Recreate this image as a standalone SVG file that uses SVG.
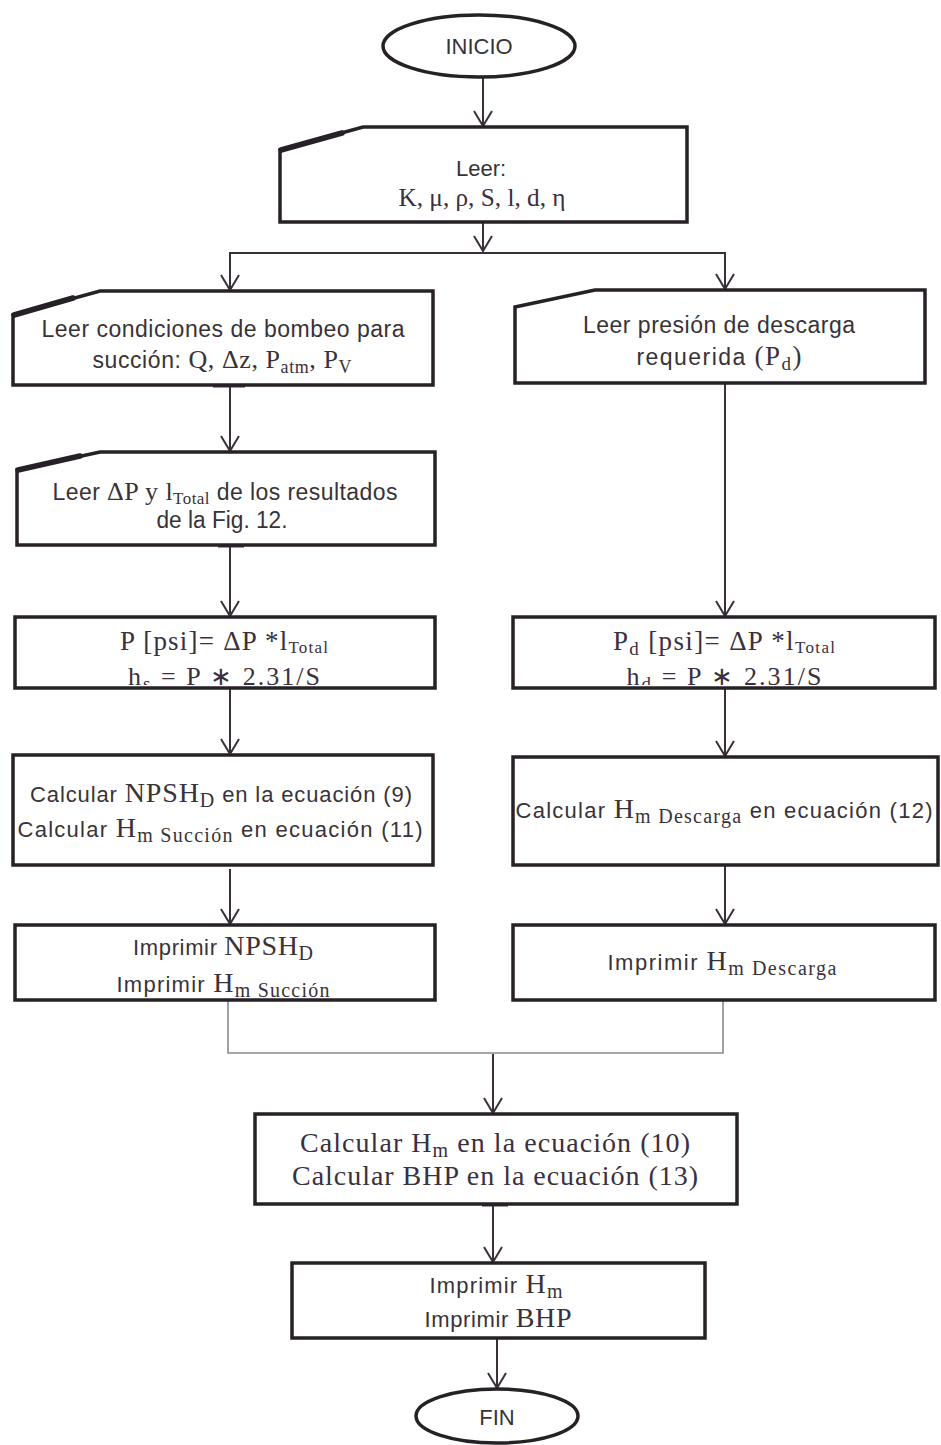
<svg xmlns="http://www.w3.org/2000/svg" width="941" height="1445" viewBox="0 0 941 1445">
<style>
.box{fill:#fff;stroke:#262126;stroke-width:3.5;stroke-linejoin:miter}
.thick{stroke:#262126;stroke-width:5.5;stroke-linecap:round;fill:none}
.term{fill:#fff;stroke:#262126;stroke-width:3.5}
.sans{font-family:"Liberation Sans",Arial,sans-serif;fill:#383338}
.serif{font-family:"Liberation Serif","Times New Roman",serif;fill:#3a3040}
.ser{font-family:"Liberation Serif","Times New Roman",serif}
.conn{stroke:#3a3038;stroke-width:2;fill:none}
.join{stroke:#8a8a8a;stroke-width:1.6;fill:none}
.tick{stroke:#3a3038;stroke-width:3;fill:none}
</style>
<defs>
<marker id="arr" viewBox="-17 -11 19 22" refX="0" refY="0" markerWidth="19" markerHeight="22" markerUnits="userSpaceOnUse" orient="auto" overflow="visible">
<path d="M-15,-9 L0,0 L-15,9" fill="none" stroke="#3a3038" stroke-width="2"/>
</marker>
<clipPath id="clipL"><rect x="0" y="600" width="470" height="85"/></clipPath>
<clipPath id="clipR"><rect x="480" y="600" width="461" height="85"/></clipPath>
</defs>
<rect width="941" height="1445" fill="#fff"/>

<g id="connectors">
<line class="conn" x1="483" y1="77" x2="483" y2="126" marker-end="url(#arr)"/>
<line class="conn" x1="483" y1="223" x2="483" y2="251" marker-end="url(#arr)"/>
<polyline class="conn" points="230,290 230,253 725,253 725,289" stroke-width="1.8"/>
<line class="conn" x1="230" y1="280" x2="230" y2="290" marker-end="url(#arr)"/>
<line class="conn" x1="725" y1="280" x2="725" y2="289" marker-end="url(#arr)"/>
<line class="conn" x1="230" y1="386" x2="230" y2="451" marker-end="url(#arr)"/>
<line class="conn" x1="230" y1="546" x2="230" y2="616" marker-end="url(#arr)"/>
<line class="conn" x1="725" y1="384" x2="725" y2="616" marker-end="url(#arr)"/>
<line class="conn" x1="230" y1="689" x2="230" y2="754" marker-end="url(#arr)"/>
<line class="conn" x1="725" y1="689" x2="725" y2="756" marker-end="url(#arr)"/>
<line class="conn" x1="230" y1="869" x2="230" y2="924" marker-end="url(#arr)"/>
<line class="conn" x1="725" y1="866" x2="725" y2="924" marker-end="url(#arr)"/>
<polyline class="join" points="228,1001 228,1053 723,1053 723,1001"/>
<line class="conn" x1="493" y1="1054" x2="493" y2="1113" marker-end="url(#arr)"/>
<line class="conn" x1="493" y1="1205" x2="493" y2="1262" marker-end="url(#arr)"/>
<line class="conn" x1="497" y1="1339" x2="497" y2="1388" marker-end="url(#arr)"/>
<line class="tick" x1="213" y1="386" x2="245" y2="386"/>
<line class="tick" x1="218" y1="546" x2="244" y2="546"/>
<line class="tick" x1="482" y1="1205" x2="508" y2="1205"/>
</g>

<g id="inicio">
<ellipse class="term" cx="479" cy="46" rx="96" ry="31"/>
<text class="sans" x="479" y="54" font-size="22" text-anchor="middle">INICIO</text>
</g>

<g id="leer">
<polygon class="box" points="280,150 363,127 687,127 687,222 280,222"/>
<line class="thick" x1="281" y1="150" x2="342" y2="133"/>
<text class="sans" x="481" y="176" font-size="22" text-anchor="middle">Leer:</text>
<text class="serif" x="482" y="206" font-size="26" text-anchor="middle" textLength="167" lengthAdjust="spacingAndGlyphs">K, μ, ρ, S, l, d, η</text>
</g>

<g id="leer-succion">
<polygon class="box" points="13,315 100,291 433,291 433,385 13,385"/>
<line class="thick" x1="14" y1="315" x2="73" y2="298"/>
<text class="sans" x="223" y="337" font-size="23" text-anchor="middle" textLength="363" lengthAdjust="spacing">Leer condiciones de bombeo para</text>
<text class="sans" x="222" y="368" font-size="23" text-anchor="middle" textLength="259" lengthAdjust="spacing">succión: <tspan class="ser" font-size="26">Q, Δz, P</tspan><tspan class="ser" font-size="18" dy="5">atm</tspan><tspan class="ser" font-size="26" dy="-5">, P</tspan><tspan class="ser" font-size="18" dy="5">V</tspan></text>
</g>

<g id="leer-dp">
<polygon class="box" points="17,470 100,452 435,452 435,545 17,545"/>
<line class="thick" x1="18" y1="470" x2="80" y2="456"/>
<text class="sans" x="225" y="500" font-size="23" text-anchor="middle" textLength="345" lengthAdjust="spacing">Leer <tspan class="ser" font-size="26">ΔP y l</tspan><tspan class="ser" font-size="17" dy="4">Total</tspan><tspan dy="-4"> de los resultados</tspan></text>
<text class="sans" x="222" y="528" font-size="23" text-anchor="middle" textLength="131" lengthAdjust="spacingAndGlyphs">de la Fig. 12.</text>
</g>

<g id="leer-descarga">
<polygon class="box" points="515,307 595,290 925,290 925,383 515,383"/>
<text class="sans" x="719" y="333" font-size="23" text-anchor="middle" textLength="272" lengthAdjust="spacing">Leer presión de descarga</text>
<text class="sans" x="719" y="365" font-size="23" text-anchor="middle" textLength="165" lengthAdjust="spacing">requerida <tspan class="ser" font-size="27">(P</tspan><tspan class="ser" font-size="19" dy="5">d</tspan><tspan class="ser" font-size="27" dy="-5">)</tspan></text>
</g>

<g id="presion-succion">
<rect class="box" x="15" y="617" width="420" height="71"/>
<text class="serif" x="224" y="650" font-size="27" text-anchor="middle" textLength="208" lengthAdjust="spacing">P [psi]= ΔP *l<tspan font-size="17" dy="3">Total</tspan></text>
<g clip-path="url(#clipL)">
<text class="serif" x="224" y="685" font-size="26" text-anchor="middle" textLength="192" lengthAdjust="spacing">h<tspan font-size="19" dy="5">s</tspan><tspan dy="-5"> = P ∗ 2.31/S</tspan></text>
</g>
</g>

<g id="presion-descarga">
<rect class="box" x="513" y="617" width="422" height="71"/>
<text class="serif" x="724" y="650" font-size="27" text-anchor="middle" textLength="222" lengthAdjust="spacing">P<tspan font-size="19" dy="5">d</tspan><tspan dy="-5"> [psi]= ΔP *l</tspan><tspan font-size="17" dy="3">Total</tspan></text>
<g clip-path="url(#clipR)">
<text class="serif" x="724" y="685" font-size="26" text-anchor="middle" textLength="195" lengthAdjust="spacing">h<tspan font-size="19" dy="5">d</tspan><tspan dy="-5"> = P ∗ 2.31/S</tspan></text>
</g>
</g>

<g id="calc-succion">
<rect class="box" x="13" y="755" width="420" height="110"/>
<text class="sans" x="221" y="802" font-size="22" text-anchor="middle" textLength="382" lengthAdjust="spacing">Calcular <tspan class="ser" font-size="28">NPSH</tspan><tspan class="ser" font-size="20" dy="5">D</tspan><tspan dy="-5"> en la ecuación (9)</tspan></text>
<text class="sans" x="220" y="837" font-size="22" text-anchor="middle" textLength="405" lengthAdjust="spacing">Calcular <tspan class="ser" font-size="28">H</tspan><tspan class="ser" font-size="20" dy="5">m Succión</tspan><tspan dy="-5"> en ecuación (11)</tspan></text>
</g>

<g id="calc-descarga">
<rect class="box" x="513" y="757" width="425" height="108"/>
<text class="sans" x="724" y="818" font-size="22" text-anchor="middle" textLength="417" lengthAdjust="spacing">Calcular <tspan class="ser" font-size="28">H</tspan><tspan class="ser" font-size="20" dy="5">m Descarga</tspan><tspan dy="-5"> en ecuación (12)</tspan></text>
</g>

<g id="imprimir-succion">
<rect class="box" x="15" y="925" width="420" height="75"/>
<text class="sans" x="223" y="955" font-size="22" text-anchor="middle" textLength="180" lengthAdjust="spacing">Imprimir <tspan class="ser" font-size="28">NPSH</tspan><tspan class="ser" font-size="20" dy="5">D</tspan></text>
<text class="sans" x="223" y="992" font-size="22" text-anchor="middle" textLength="213" lengthAdjust="spacing">Imprimir <tspan class="ser" font-size="28">H</tspan><tspan class="ser" font-size="20" dy="5">m Succión</tspan></text>
</g>

<g id="imprimir-descarga">
<rect class="box" x="513" y="925" width="422" height="75"/>
<text class="sans" x="722" y="970" font-size="22" text-anchor="middle" textLength="229" lengthAdjust="spacing">Imprimir <tspan class="ser" font-size="28">H</tspan><tspan class="ser" font-size="20" dy="5">m Descarga</tspan></text>
</g>

<g id="calc-total">
<rect class="box" x="255" y="1114" width="482" height="90"/>
<text class="serif" x="495" y="1152" font-size="28" text-anchor="middle" textLength="390" lengthAdjust="spacing">Calcular H<tspan font-size="20" dy="5">m</tspan><tspan dy="-5"> en la ecuación (10)</tspan></text>
<text class="serif" x="495" y="1185" font-size="28" text-anchor="middle" textLength="406" lengthAdjust="spacing">Calcular BHP en la ecuación (13)</text>
</g>

<g id="imprimir-total">
<rect class="box" x="292" y="1263" width="413" height="75"/>
<text class="sans" x="496" y="1293" font-size="22" text-anchor="middle" textLength="133" lengthAdjust="spacing">Imprimir <tspan class="ser" font-size="28">H</tspan><tspan class="ser" font-size="20" dy="5">m</tspan></text>
<text class="sans" x="498" y="1327" font-size="22" text-anchor="middle" textLength="147" lengthAdjust="spacing">Imprimir <tspan class="ser" font-size="28">BHP</tspan></text>
</g>

<g id="fin">
<ellipse class="term" cx="497" cy="1416" rx="81" ry="27"/>
<text class="sans" x="497" y="1425" font-size="22" text-anchor="middle">FIN</text>
</g>
</svg>
